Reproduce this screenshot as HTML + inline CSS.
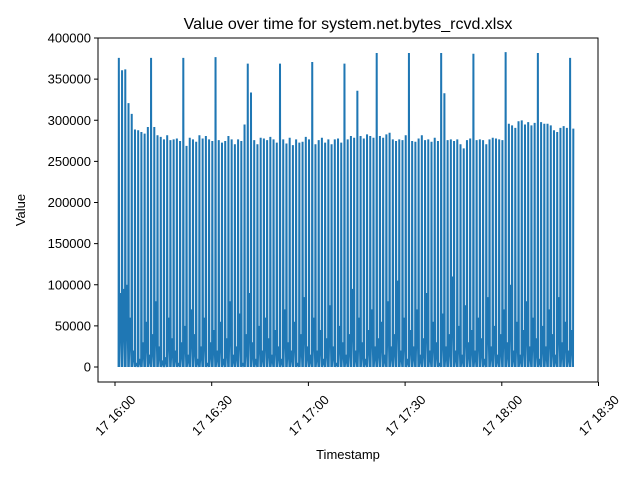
<!DOCTYPE html>
<html><head><meta charset="utf-8"><style>
body{margin:0;background:#fff}
svg{font-family:"Liberation Sans","DejaVu Sans",sans-serif}
</style></head><body>
<svg id="c" width="640" height="480">
<rect width="640" height="480" fill="#fff"/>
<text x="348" y="29" font-size="16" text-anchor="middle">Value over time for system.net.bytes_rcvd.xlsx</text>
<g id="plot"></g>
<rect x="98" y="38" width="500" height="344" fill="none" stroke="#000" stroke-width="1"/>
<text x="348" y="459" font-size="13" text-anchor="middle">Timestamp</text>
<text x="25" y="210" font-size="13" text-anchor="middle" transform="rotate(-90 25 210)">Value</text>
</svg>
<script>
const peaks=[375,360,361,320,307,288,287,285,283,291,
375,291,281,279,276,281,275,276,277,274,
375,268,278,276,273,281,277,280,276,274,
376,275,272,274,280,276,270,276,274,294,
368,333,275,270,278,277,275,279,276,272,
368,276,271,278,269,276,272,273,279,276,
370,270,275,278,272,276,270,276,277,272,
368,276,280,278,335,280,277,282,280,278,
381,280,278,282,284,276,274,276,275,281,
381,274,273,277,281,275,276,273,278,274,
381,332,275,276,274,276,270,265,275,277,
380,275,276,275,270,276,278,277,276,275,
382,295,293,290,298,299,294,297,293,296,
381,297,295,295,293,287,285,290,292,290,
375,289];
const lows=[90,95,100,60,20,5,10,30,55,15,
40,80,25,8,12,60,35,20,5,30,
50,15,70,40,10,25,60,5,30,45,
20,55,10,35,80,15,25,65,5,40,
90,30,10,50,20,60,35,15,45,25,
10,70,30,20,55,5,40,85,25,15,
60,20,45,10,35,75,25,5,50,30,
15,40,95,20,60,30,10,45,70,25,
35,55,15,80,25,40,105,20,60,10,
45,25,70,15,35,90,20,55,30,5,
65,25,40,110,20,50,15,75,30,45,
20,60,35,10,85,25,50,15,40,70,
30,100,20,55,15,45,80,25,60,35,
10,50,25,70,40,15,85,30,55,20,
45,30,160];
const xTicks=[0,30,60,90,120,150];
const xTickLabels=["17 16:00","17 16:30","17 17:00","17 17:30","17 18:00","17 18:30"];
const yTicks=[0,50000,100000,150000,200000,250000,300000,350000,400000];
const NS="http://www.w3.org/2000/svg";
const X=m=>115+m*(96.7/30);
const Y=v=>367-v*(329/400000);
const g=document.getElementById('plot');
let pts=[];
for(let i=0;i<peaks.length;i++){
  const t=1+i;
  pts.push([X(t),Y(0)]);
  pts.push([X(t+0.08),Y(peaks[i]*1000)]);
  pts.push([X(t+0.3),Y(peaks[i]*1000)]);
  if(i<peaks.length-1){
    pts.push([X(t+0.4),Y(0)]);
    pts.push([X(t+0.7),Y(lows[i]*1000)]);
  }
}
pts.push([X(142.2),Y(0)]);
pts.push([X(142.25),Y(lows[lows.length-1]*1000)]);
const p=document.createElementNS(NS,'path');
p.setAttribute('d','M'+pts.map(q=>q[0].toFixed(2)+','+q[1].toFixed(2)).join('L'));
p.setAttribute('fill','none');p.setAttribute('stroke','#1f77b4');p.setAttribute('stroke-width','1.3');


g.appendChild(p);
yTicks.forEach(v=>{
  const y=Y(v);
  const l=document.createElementNS(NS,'line');
  l.setAttribute('x1',94);l.setAttribute('x2',98);l.setAttribute('y1',y);l.setAttribute('y2',y);l.setAttribute('stroke','#000');
  
  
  g.appendChild(l);
  const t=document.createElementNS(NS,'text');
  t.setAttribute('x',91);t.setAttribute('y',y+4.5);t.setAttribute('font-size','13');t.setAttribute('text-anchor','end');
  t.textContent=v;
  
  
  g.appendChild(t);
});
xTicks.forEach((m,i)=>{
  const x=X(m);
  const l=document.createElementNS(NS,'line');
  l.setAttribute('x1',x);l.setAttribute('x2',x);l.setAttribute('y1',382);l.setAttribute('y2',386);l.setAttribute('stroke','#000');
  
  
  g.appendChild(l);
  const t=document.createElementNS(NS,'text');
  t.setAttribute('x',x);t.setAttribute('y',420);t.setAttribute('font-size','13');t.setAttribute('text-anchor','middle');
  t.setAttribute('transform','rotate(-45 '+x+' 415)');
  t.textContent=xTickLabels[i];
  
  
  g.appendChild(t);
});
</script>
</body></html>
